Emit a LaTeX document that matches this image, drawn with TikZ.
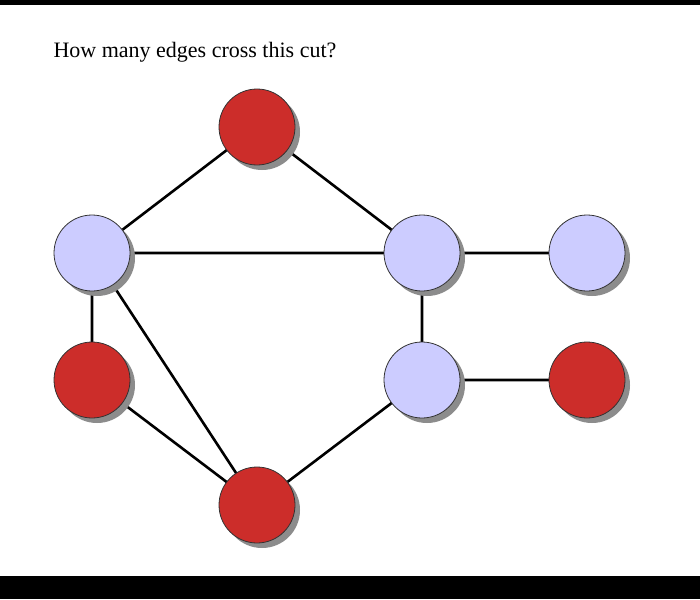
\documentclass[tikz,border=0pt]{standalone}
\usepackage{fontspec}
\setmainfont{Liberation Serif}
\usetikzlibrary{shadows}
\definecolor{vred}{HTML}{CC2D2A}
\definecolor{vblue}{HTML}{CCCCFF}
\begin{document}
\begin{tikzpicture}[x=1pt,y=-1pt,
  vert/.style={circle,draw=black!80,line width=0.8pt,minimum size=76pt,inner sep=0pt,
    drop shadow={shadow xshift=5pt,shadow yshift=-5pt,fill=black!45,opacity=1}},
  rv/.style={vert,fill=vred},
  bv/.style={vert,fill=vblue},
  edge/.style={line width=2.6pt,black}]
\fill[white] (0,0) rectangle (700,599);
\fill[black] (0,0) rectangle (700,5);
\fill[black] (0,576) rectangle (700,599);
\node[anchor=west,font=\fontsize{22}{26}\selectfont] (title) at (50,52) {How many edges cross this cut?};
\coordinate (pt) at (257,127);
\coordinate (pl) at (92,253);
\coordinate (pm) at (422,253);
\coordinate (pr) at (587,253);
\coordinate (ql) at (92,380);
\coordinate (qm) at (422,380);
\coordinate (qr) at (587,380);
\coordinate (qb) at (257,505);
\draw[edge] (pt)--(pl) (pt)--(pm) (pl)--(pm) (pm)--(pr) (pl)--(ql) (pl)--(qb)
  (pm)--(qm) (qm)--(qr) (qm)--(qb) (ql)--(qb);
\node[rv] (t) at (pt) {};
\node[bv] (l) at (pl) {};
\node[bv] (m) at (pm) {};
\node[bv] (r) at (pr) {};
\node[rv] (a) at (ql) {};
\node[bv] (b) at (qm) {};
\node[rv] (c) at (qr) {};
\node[rv] (d) at (qb) {};
\end{tikzpicture}
\end{document}
